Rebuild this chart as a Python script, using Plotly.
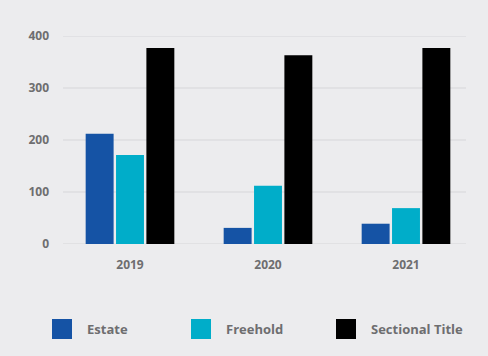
import plotly.graph_objects as go

years = ["2019", "2020", "2021"]
series_names = ["Estate", "Freehold", "Sectional Title"]
estate = [212, 31, 39]
freehold = [171, 112, 69]
sectional = [377, 363, 377]
colors = ["#1553a5", "#00adc9", "#000000"]
y_ticks = [0, 100, 200, 300, 400]

FONT = "Open Sans"
TXT = "#6e6e70"
BG = "#ececee"
GRID = "#d6d6d9"

W, H = 488, 356
L, R, T, B = 61, 13, 36, 112
PW = W - L - R
PH = H - T - B

def px_x(p):
    return (p - L) / PW

def px_y(p):
    return (H - B - p) / PH

fig = go.Figure()
for name, vals, col in zip(series_names, [estate, freehold, sectional], colors):
    fig.add_trace(go.Bar(x=years, y=vals, name=name, marker=dict(color=col, line=dict(width=0)),
                         showlegend=False))

# gridlines
for v in y_ticks:
    fig.add_shape(type="line", xref="paper", yref="y", x0=px_x(63), x1=px_x(466), y0=v, y1=v,
                  line=dict(color=GRID, width=1), layer="below")

# custom legend
leg_x = [52, 191, 336]
for name, col, lx in zip(series_names, colors, leg_x):
    fig.add_shape(type="rect", xref="paper", yref="paper",
                  x0=px_x(lx), x1=px_x(lx + 20), y0=px_y(319), y1=px_y(339),
                  fillcolor=col, line=dict(width=0))
    fig.add_annotation(xref="paper", yref="paper", x=px_x(lx + 33), y=px_y(329),
                       text=name, showarrow=False, xanchor="left", yanchor="middle",
                       font=dict(family=FONT, size=13, color=TXT, weight=700))

fig.update_layout(
    width=W, height=H,
    margin=dict(l=L, r=R, t=T, b=B),
    paper_bgcolor=BG, plot_bgcolor=BG,
    barmode="group", bargap=0.34, bargroupgap=0.08,
    font=dict(family=FONT, size=12, color=TXT),
    xaxis=dict(showgrid=False, showline=False, ticks="", ticklabelstandoff=12,
               tickfont=dict(size=12, weight=700, color=TXT)),
    yaxis=dict(range=[0, 400], tickvals=y_ticks, showgrid=False, zeroline=False,
               ticks="", ticklabelstandoff=11, tickfont=dict(size=12, weight=700, color=TXT)),
    showlegend=False,
)
fig.write_html("out.html", config={"displayModeBar": False},
               post_script="document.body.style.margin='0';document.body.style.background='%s';" % BG)
